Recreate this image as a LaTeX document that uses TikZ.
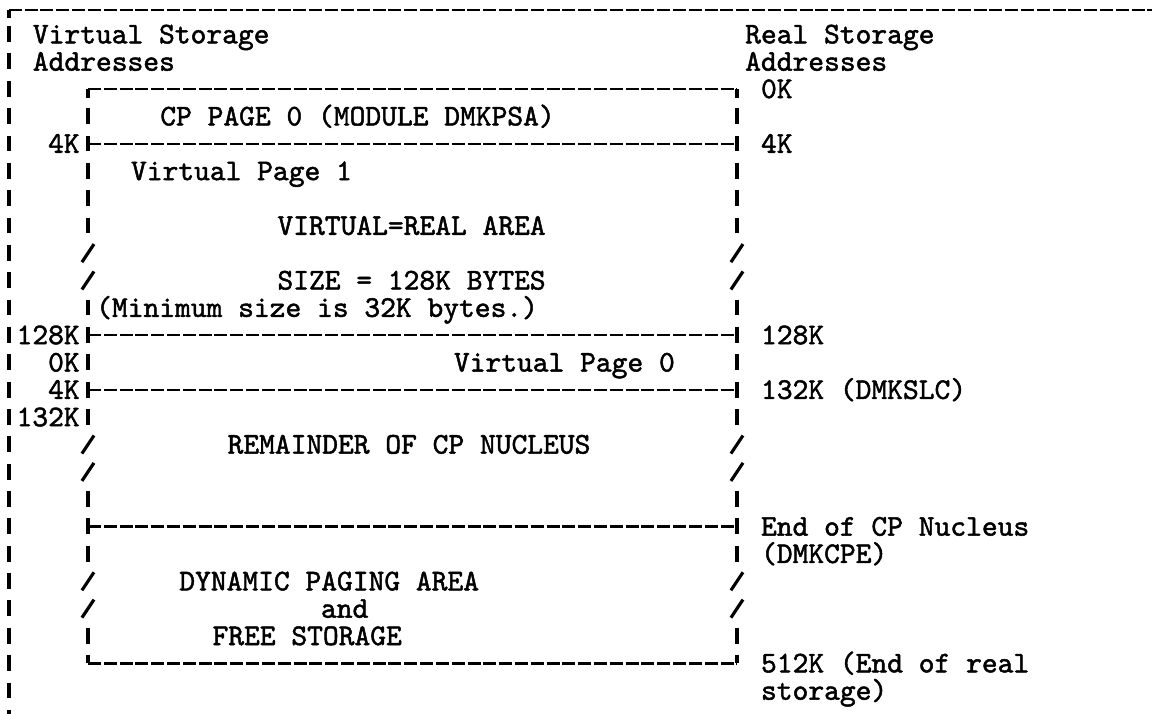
\documentclass[tikz,border=0pt]{standalone}
\usepackage{fontspec}
\newfontfamily\prtfont[FakeBold=1.6]{lmmono10-regular.otf}
\usepackage{tikz}
\newlength{\CW}
\setlength{\CW}{0.3166cm}
\newlength{\RH}
\setlength{\RH}{0.547cm}
\tikzset{
  prt/.style={font=\fontsize{17.1}{20}\selectfont\prtfont, inner sep=0pt},
  vbar/.style={line width=2.1pt},
  hrule/.style={line width=1.3pt, dash pattern=on 7.4pt off 1.6pt},
  slash/.style={line width=1.8pt}
}
% text on the print grid: name, column, row, text
\newcommand{\ptxt}[4]{%
  \node[prt, anchor=base west] (#1) at (#2, #3+0.33) {#4};%
}
% virtual address left of the box, right aligned
\newcommand{\paddr}[3]{%
  \node[prt, anchor=base east] (#1) at (4.5, #2+0.33) {#3};%
}

\begin{document}
\begin{tikzpicture}[x=\CW, y=-\RH]
\useasboundingbox (-0.556,-0.256) rectangle (72.22,25.85);
\clip (-0.556,-0.256) rectangle (72.22,25.85);

% --- OUTER FRAME ---
\draw[hrule] (0,0.1) -- (72.3,0.1);
\draw[vbar] (0,0.1) -- (0,0.4);
\foreach \r in {1,...,26}
  \draw[vbar] (0,\r-0.3) -- (0,\r+0.28);

% --- HEADINGS ---
\ptxt{vsa1}{1.5}{1}{Virtual Storage}
\ptxt{vsa2}{1.5}{2}{Addresses}
\ptxt{rsa1}{46.5}{1}{Real Storage}
\ptxt{rsa2}{46.5}{2}{Addresses}

% --- BOX ---
% top and bottom with corners
\draw[hrule] (5,3) -- (46,3);
\draw[hrule] (5,24) -- (46,24);
\draw[vbar] (5,3) -- (5,3.32);
\draw[vbar] (46,3) -- (46,3.32);
\draw[vbar] (5,23.68) -- (5,24);
\draw[vbar] (46,23.68) -- (46,24);
% dividers
\foreach \r in {5,12,14,19}
  \draw[hrule] (5,\r) -- (46,\r);
% side edges
\foreach \r in {4,5,6,7,8,11,12,13,14,15,18,19,20,23}{
  \draw[vbar] (5,\r-0.3) -- (5,\r+0.28);
  \draw[vbar] (46,\r-0.3) -- (46,\r+0.28);
}
% breaks in the side edges
\foreach \r in {9,10,16,17,21,22}{
  \draw[slash] (4.62,\r+0.33) -- (5.38,\r-0.33);
  \draw[slash] (45.62,\r+0.33) -- (46.38,\r-0.33);
}

% --- BOX CONTENTS ---
\ptxt{cp0}{9.55}{4}{CP PAGE 0 (MODULE DMKPSA)}
\ptxt{vp1}{7.7}{6}{Virtual Page 1}
\ptxt{vra}{16.95}{8}{VIRTUAL=REAL AREA}
\ptxt{vsz}{16.95}{10}{SIZE = 128K BYTES}
\ptxt{vmin}{5.5}{11}{(Minimum size is 32K bytes.)}
\ptxt{vp0}{28.1}{13}{Virtual Page 0}
\ptxt{rem}{13.8}{16}{REMAINDER OF CP NUCLEUS}
\ptxt{dpa1}{10.75}{21}{DYNAMIC PAGING AREA}
\ptxt{dpa2}{19.7}{22}{and}
\ptxt{dpa3}{12.85}{23}{FREE STORAGE}

% --- VIRTUAL ADDRESSES ---
\paddr{v4a}{5}{4K}
\paddr{v128}{12}{128K}
\paddr{v0}{13}{0K}
\paddr{v4b}{14}{4K}
\paddr{v132}{15}{132K}

% --- REAL ADDRESSES ---
\ptxt{r0}{47.5}{3}{0K}
\ptxt{r4}{47.5}{5}{4K}
\ptxt{r128}{47.5}{12}{128K}
\ptxt{r132}{47.5}{14}{132K (DMKSLC)}
\ptxt{rend1}{47.5}{19}{End of CP Nucleus}
\ptxt{rend2}{47.5}{20}{(DMKCPE)}
\ptxt{rend3}{47.5}{24}{512K (End of real}
\ptxt{rend4}{47.5}{25}{storage)}

\end{tikzpicture}
\end{document}
